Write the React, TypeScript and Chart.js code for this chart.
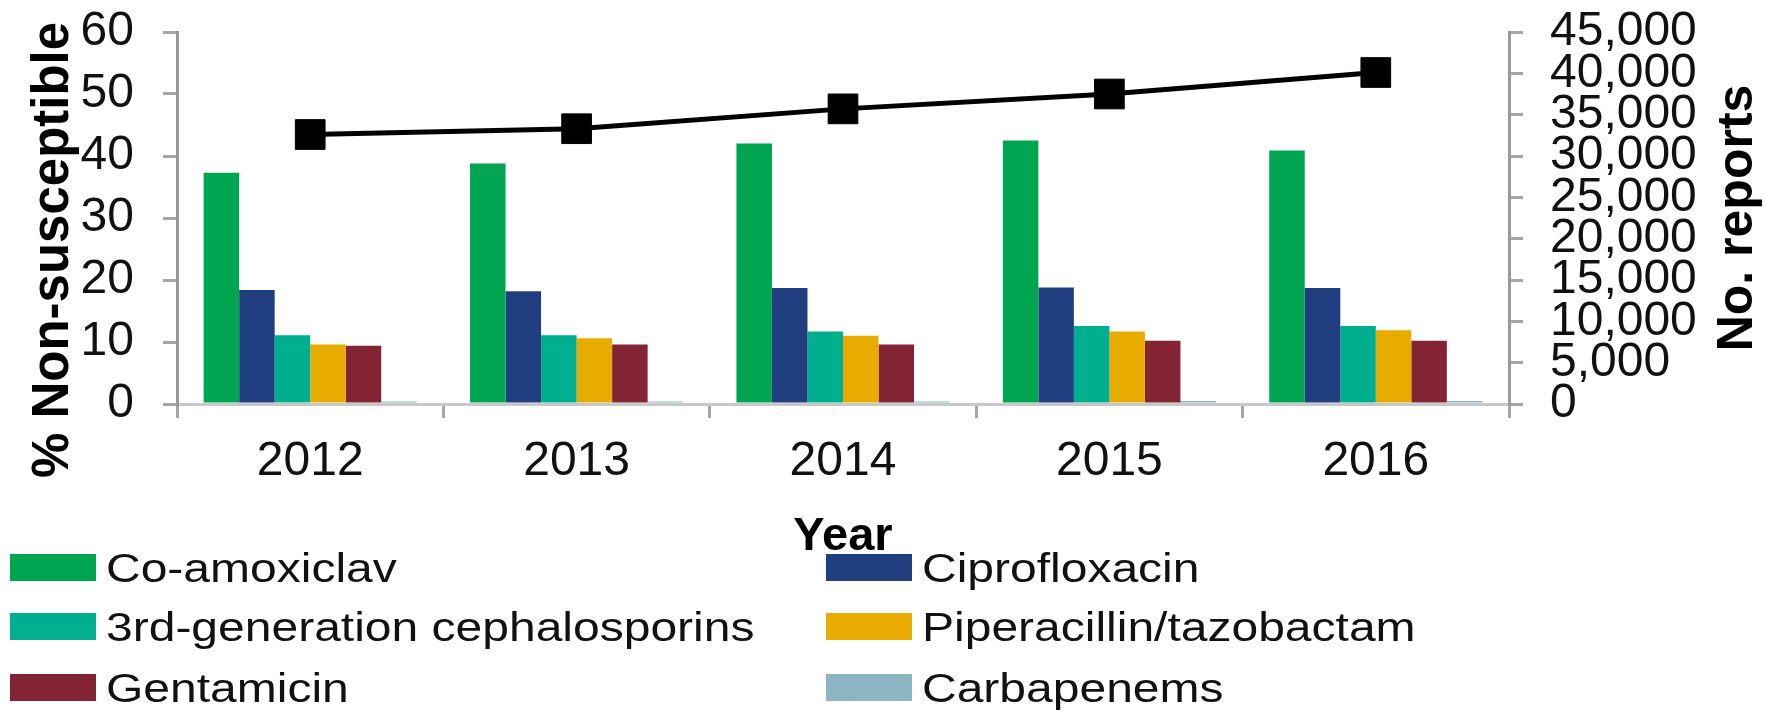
import React, { useEffect, useRef } from 'react';
import { Chart, registerables } from 'chart.js';

Chart.register(...registerables);

const years = ['2012', '2013', '2014', '2015', '2016'];

const seriesNames = [
  'Co-amoxiclav',
  'Ciprofloxacin',
  '3rd-generation cephalosporins',
  'Piperacillin/tazobactam',
  'Gentamicin',
  'Carbapenems',
];
const seriesColors = ['#00A551', '#213F80', '#00AF8F', '#E8AC00', '#822433', '#8DB4C1'];

const coAmoxiclav = [37.3, 38.8, 42.0, 42.5, 40.9];
const ciprofloxacin = [18.4, 18.2, 18.7, 18.8, 18.7];
const cephalosporins3G = [11.1, 11.1, 11.7, 12.6, 12.6];
const piperacillinTazobactam = [9.6, 10.6, 11.0, 11.7, 11.9];
const gentamicin = [9.4, 9.6, 9.6, 10.2, 10.2];
const carbapenems = [0.4, 0.4, 0.4, 0.5, 0.5];

const reports = [32600, 33300, 35700, 37500, 40100];

const leftAxis = { min: 0, max: 60, step: 10 };
const rightAxis = { min: 0, max: 45000, step: 5000 };

const leftTitle = '% Non-susceptible';
const rightTitle = 'No. reports';
const xTitle = 'Year';

const FONT = "'Liberation Sans', Arial, sans-serif";

const W = 1766;
const H = 715;

export default function App() {
  const ref = useRef<HTMLCanvasElement | null>(null);

  useEffect(() => {
    const canvas = ref.current;
    if (!canvas) return;
    Chart.defaults.font.family = FONT;

    const seriesValues = [
      coAmoxiclav,
      ciprofloxacin,
      cephalosporins3G,
      piperacillinTazobactam,
      gentamicin,
      carbapenems,
    ];

    const barSets = seriesNames.map((name, i) => ({
      type: 'bar' as const,
      label: name,
      data: seriesValues[i],
      backgroundColor: seriesColors[i],
      borderWidth: 0,
      yAxisID: 'y',
      categoryPercentage: 0.8,
      barPercentage: 1.0,
      order: 1,
    }));

    const lineSet = {
      type: 'line' as const,
      label: rightTitle,
      data: reports,
      yAxisID: 'y1',
      borderColor: '#000',
      backgroundColor: '#000',
      borderWidth: 5,
      pointStyle: 'rect',
      pointRadius: 21,
      pointBorderWidth: 1,
      pointBackgroundColor: '#000',
      pointBorderColor: '#000',
      tension: 0,
      order: 0,
    };

    const textPlugin = {
      id: 'customText',
      afterDraw(chart: any) {
        const ctx = chart.ctx as CanvasRenderingContext2D;
        const area = chart.chartArea;
        ctx.save();
        ctx.fillStyle = '#000';
        ctx.textBaseline = 'alphabetic';
        ctx.textAlign = 'center';

        // left axis title
        ctx.save();
        ctx.font = `bold 51px ${FONT}`;
        ctx.translate(68, 250);
        ctx.rotate(-Math.PI / 2);
        ctx.fillText(leftTitle, 0, 0);
        ctx.restore();

        // right axis title
        ctx.save();
        ctx.font = `bold 50px ${FONT}`;
        ctx.translate(1752, (area.top + area.bottom) / 2);
        ctx.rotate(-Math.PI / 2);
        ctx.fillText(rightTitle, 0, 0);
        ctx.restore();

        // x title
        ctx.font = `bold 47px ${FONT}`;
        ctx.fillText(xTitle, (area.left + area.right) / 2, 550);

        // legend (two columns, row-major)
        const colSwatchX = [10, 826];
        const swatchW = 86;
        const colTextX = [10 + swatchW + 10, 826 + swatchW + 10];
        const rowBase = [582, 641, 702];
        ctx.textAlign = 'left';
        ctx.font = `40px ${FONT}`;
        chart.data.datasets.forEach((ds: any, i: number) => {
          if (ds.type !== 'bar') return;
          const col = i % 2;
          const row = Math.floor(i / 2);
          ctx.fillStyle = ds.backgroundColor;
          ctx.fillRect(colSwatchX[col], rowBase[row] - 28, swatchW, 27);
          ctx.fillStyle = '#111';
          ctx.save();
          ctx.translate(colTextX[col], rowBase[row]);
          ctx.scale(1.2, 1);
          ctx.fillText(ds.label, 0, 0);
          ctx.restore();
        });
        ctx.restore();
      },
    };

    const fixVertical = (width: number) => (s: any) => {
      s.width = width;
      s.paddingTop = 0;
      s.paddingBottom = 0;
    };

    const chart = new Chart(canvas, {
      type: 'bar',
      data: {
        labels: years,
        datasets: [...barSets, lineSet] as any,
      },
      options: {
        responsive: false,
        animation: false,
        devicePixelRatio: 1,
        layout: { padding: { left: 0, right: 0, top: 32, bottom: 0 } },
        plugins: {
          legend: { display: false },
          tooltip: { enabled: false },
          title: { display: false },
        },
        scales: {
          x: {
            type: 'category',
            offset: true,
            grid: {
              offset: true,
              drawOnChartArea: false,
              drawTicks: true,
              tickLength: 14,
              color: '#a6a6a6',
              lineWidth: 3,
            },
            border: { display: true, color: '#c8c8c8', width: 3 },
            ticks: {
              font: { size: 48 },
              color: '#111',
              padding: 15,
              maxRotation: 0,
              autoSkip: false,
            },
            afterFit: (s: any) => {
              s.height = H - 404;
              s.paddingLeft = 0;
              s.paddingRight = 0;
            },
          },
          y: {
            position: 'left',
            min: leftAxis.min,
            max: leftAxis.max,
            ticks: {
              stepSize: leftAxis.step,
              font: { size: 48 },
              color: '#111',
              padding: 29,
              autoSkip: false,
            },
            grid: {
              drawOnChartArea: false,
              drawTicks: true,
              tickLength: 14,
              color: '#a6a6a6',
              lineWidth: 3,
            },
            border: { display: true, color: '#9a9a9a', width: 3 },
            afterFit: fixVertical(177),
          },
          y1: {
            position: 'right',
            min: rightAxis.min,
            max: rightAxis.max,
            ticks: {
              stepSize: rightAxis.step,
              font: { size: 48 },
              color: '#111',
              padding: 27,
              autoSkip: false,
              callback: (v: any) => Number(v).toLocaleString('en-US'),
            },
            grid: {
              drawOnChartArea: false,
              drawTicks: true,
              tickLength: 14,
              color: '#a6a6a6',
              lineWidth: 3,
            },
            border: { display: true, color: '#9a9a9a', width: 3 },
            afterFit: fixVertical(W - 1509),
          },
        },
      } as any,
      plugins: [textPlugin],
    });

    return () => {
      chart.destroy();
    };
  }, []);

  return (
    <div
      style={{
        position: 'fixed',
        left: 0,
        top: 0,
        width: W,
        height: H,
        background: '#fff',
      }}
    >
      <canvas ref={ref} width={W} height={H} style={{ display: 'block', width: W, height: H }} />
    </div>
  );
}
